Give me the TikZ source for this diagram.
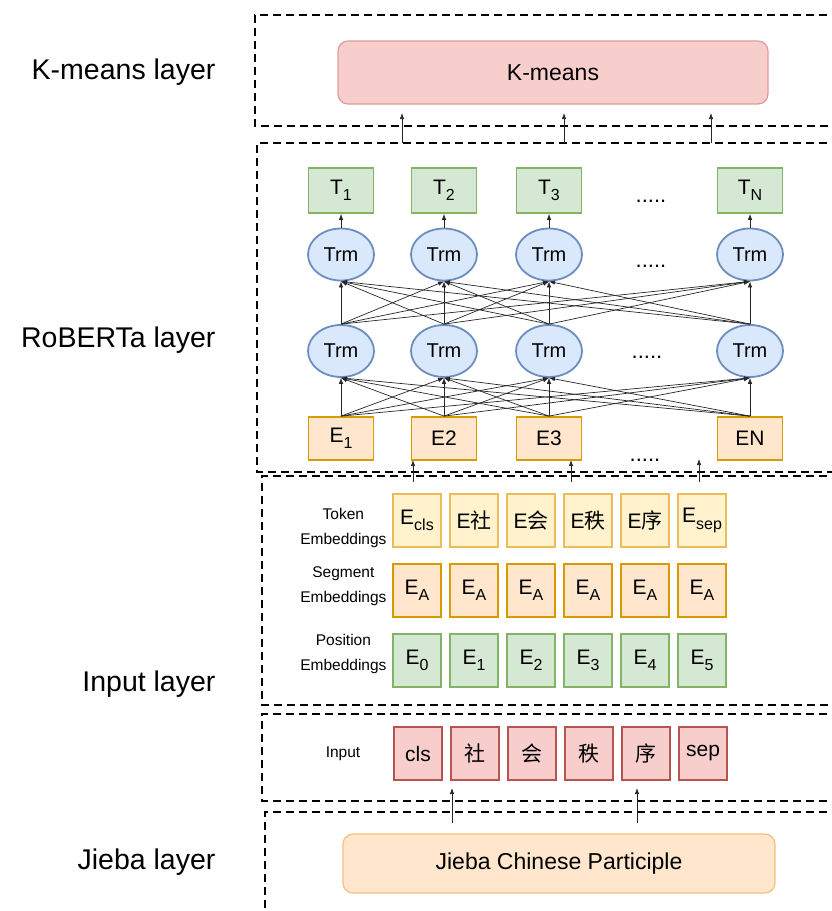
\documentclass[tikz,border=0pt]{standalone}
\usepackage{fontspec}
\setmainfont{Liberation Sans}
\newfontfamily\cjk{Noto Sans CJK SC}
\usetikzlibrary{arrows.meta,shapes.geometric}

\definecolor{gruenF}{HTML}{D5E8D4}
\definecolor{gruenR}{HTML}{82B366}
\definecolor{blauF}{HTML}{DAE8FC}
\definecolor{blauR}{HTML}{6C8EBF}
\definecolor{orangeF}{HTML}{FFE6CC}
\definecolor{orangeR}{HTML}{D79B00}
\definecolor{gelbF}{HTML}{FFF2CC}
\definecolor{gelbR}{HTML}{ECBC5A}
\definecolor{rotF}{HTML}{F8CECC}
\definecolor{rotR}{HTML}{B85450}
\definecolor{rotH}{HTML}{E39A9A}
\definecolor{orangeH}{HTML}{F2C27A}

% Index etwas groesser als \textsubscript
\newcommand{\idx}[1]{\raisebox{-0.3em}{\fontsize{16}{16}\selectfont #1}}

\tikzset{
  rahmen/.style={line width=2.2pt, dash pattern=on 8pt off 5pt},
  pfeil/.style={-{Latex[length=6pt,width=4.5pt]}, line width=0.7pt, draw=black!85},
  schicht/.style={anchor=east, font=\fontsize{28.5}{34}\selectfont},
  klein/.style={align=center, anchor=east, font=\fontsize{15.5}{25}\selectfont},
  punkte/.style={anchor=base, font=\fontsize{22}{22}\selectfont},
  breit/.style={rounded corners=10pt, line width=1.2pt, font=\fontsize{23}{23}\selectfont},
  tbox/.style={draw=gruenR, fill=gruenF, line width=1.8pt, minimum width=65pt, minimum height=45pt, inner sep=0pt, font=\fontsize{21}{21}\selectfont},
  trm/.style={ellipse, draw=blauR, fill=blauF, line width=1.8pt, minimum width=66pt, minimum height=52pt, inner sep=0pt, font=\fontsize{20}{20}\selectfont},
  ebox/.style={draw=orangeR, fill=orangeF, line width=1.8pt, minimum width=65pt, minimum height=43pt, inner sep=0pt, font=\fontsize{21}{21}\selectfont},
  emb/.style={minimum width=48pt, minimum height=53pt, inner sep=0pt, line width=1.8pt, font=\fontsize{21}{21}\selectfont},
}

\begin{document}
\begin{tikzpicture}[x=1pt, y=-1pt]
  \useasboundingbox (0,0) rectangle (832,911);

  % gestrichelte Rahmen (rechts offen)
  \draw[rahmen] (840,15) -| (255,126) -- (840,126);
  \draw[rahmen] (840,143) -| (257,472) -- (840,472);
  \draw[rahmen] (840,476) -| (262,705) -- (840,705);
  \draw[rahmen] (840,714) -| (262,801) -- (840,801);
  \draw[rahmen] (840,812) -| (265,920);

  % Namen der Schichten
  \node[schicht] (lkm) at (219,72) {K-means layer};
  \node[schicht] (lrb) at (219,340) {RoBERTa layer};
  \node[schicht] (lin) at (219,684) {Input layer};
  \node[schicht] (ljb) at (219,862) {Jieba layer};

  % K-means
  \node[breit, draw=rotH, fill=rotF, minimum width=430pt, minimum height=63pt] (km) at (553,72.5) {K-means};
  \foreach \x [count=\i] in {402,564,711} {
    \coordinate (ka\i) at (\x,143);
    \coordinate (kb\i) at (\x,113);
    \draw[pfeil] (ka\i) -- (kb\i);
  }

  % RoBERTa: Ausgaben, zwei Trm-Schichten, Eingaben
  \foreach \x/\t [count=\i] in {341/T\idx{1}, 444/T\idx{2}, 549/T\idx{3}, 750/T\idx{N}} {
    \node[tbox] (t\i) at (\x,190.5) {\t};
    \node[trm] (o\i) at (\x,254.5) {Trm};
    \node[trm] (u\i) at (\x,351) {Trm};
  }
  \foreach \x/\t [count=\i] in {341/E\idx{1}, 444/E2, 549/E3, 750/EN}
    \node[ebox] (e\i) at (\x,438.5) {\t};

  \node[punkte] (p1) at (651,202) {.....};
  \node[punkte] (p2) at (651,267) {.....};
  \node[punkte] (p3) at (647,358) {.....};
  \node[punkte] (p4) at (645,461) {.....};

  % Verbindungen
  \foreach \i in {1,...,4} {
    \draw[pfeil] (o\i.north) -- (t\i.south);
    \foreach \j in {1,...,4} {
      \draw[pfeil] (u\i.north) -- (o\j.south);
      \draw[pfeil] (e\i.north) -- (u\j.south);
    }
  }

  % Pfeile aus den Embeddings
  \foreach \x/\y [count=\i] in {413/460, 571/460, 699/459} {
    \coordinate (ea\i) at (\x,482);
    \coordinate (eb\i) at (\x,\y);
    \draw[pfeil] (ea\i) -- (eb\i);
  }

  % Embeddings
  \node[klein] (ltok) at (390,528) {Token\\Embeddings};
  \node[klein] (lseg) at (390,586) {Segment\\Embeddings};
  \node[klein] (lpos) at (390,654) {Position\\Embeddings};
  \foreach \t [count=\i from 0] in {E\idx{cls}, E{\cjk 社}, E{\cjk 会}, E{\cjk 秩}, E{\cjk 序}, E\idx{sep}}
    \node[emb, draw=gelbR, fill=gelbF] (tok\i) at (417+57*\i,520.5) {\t};
  \foreach \i in {0,...,5} {
    \node[emb, draw=orangeR, fill=orangeF] (seg\i) at (417+57*\i,590.5) {E\idx{A}};
    \node[emb, draw=gruenR, fill=gruenF] (pos\i) at (417+57*\i,660.5) {E\idx{\i}};
  }

  % Eingabe
  \node[klein, anchor=center] (lein) at (343,754) {Input};
  \foreach \t [count=\i from 0] in {cls, {\cjk 社}, {\cjk 会}, {\cjk 秩}, {\cjk 序}, sep}
    \node[emb, draw=rotR, fill=rotF] (in\i) at (418+57*\i,753.5) {\t};

  % Jieba
  \node[breit, draw=orangeH, fill=orangeF, minimum width=432pt, minimum height=59pt] (jb) at (559,863.5) {Jieba Chinese Participle};
  \foreach \x [count=\i] in {452,637} {
    \coordinate (ja\i) at (\x,823);
    \coordinate (jb\i) at (\x,788);
    \draw[pfeil] (ja\i) -- (jb\i);
  }
\end{tikzpicture}
\end{document}
